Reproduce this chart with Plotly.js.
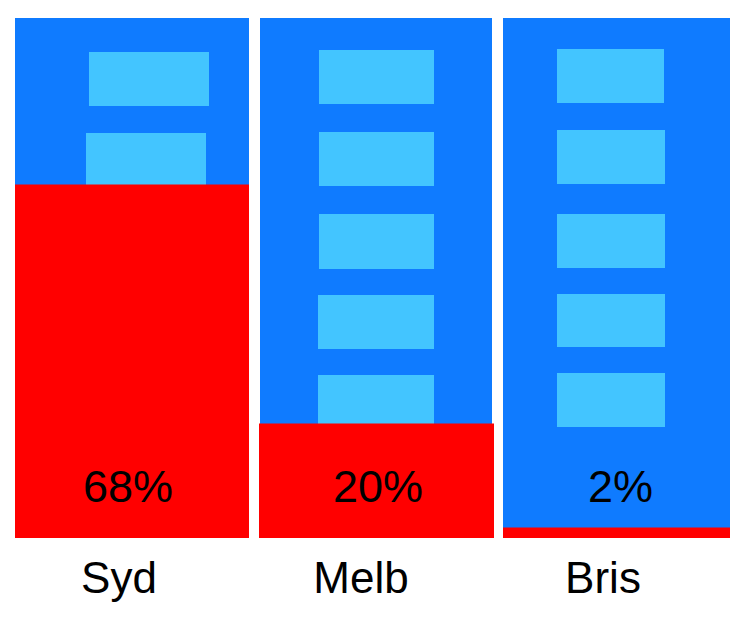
<!DOCTYPE html>
<html>
<head>
<meta charset="utf-8">
<script src="https://cdn.plot.ly/plotly-3.0.1.min.js"></script>
<style>
  html, body { margin: 0; padding: 0; background: #ffffff; }
  #chart { width: 745px; height: 620px; }
</style>
</head>
<body>
<div id="chart"></div>
<script>
// ---- data ----
const categories = ['Syd', 'Melb', 'Bris'];
const fillPct = [68, 22, 2];           // red fill height
const pctLabels = ['68%', '20%', '2%'];  // printed labels
const buildingPct = [100, 100, 100];

// ---- geometry (pixels of the 745x620 frame) ----
const PLOT_L = 11, PLOT_R = 737, PLOT_T = 18, PLOT_B = 538;
const STEP = (PLOT_R - PLOT_L) / categories.length;
const center = i => PLOT_L + STEP * (i + 0.5);
const toY = p => (PLOT_B - p) / (PLOT_B - PLOT_T) * 100;
const offs = (lefts) => lefts.map((l, i) => (l - center(i)) / STEP);
const wids = (lefts, rights) => lefts.map((l, i) => (rights[i] - l) / STEP);

const bldL = [15, 260, 503], bldR = [249, 492, 730];
const redL = [15, 259, 503], redR = [249, 494, 730];

// windows: per row, per building [left, right, top, bottom] in px
const winRows = [
  [[89, 209, 52, 106], [319, 434, 50, 104], [557, 664, 49, 103]],
  [[86, 206, 133, 186], [319, 434, 132, 186], [557, 665, 130, 184]],
  [[86, 206, 214, 268], [319, 434, 214, 269], [557, 665, 214, 268]],
  [[86, 206, 295, 349], [318, 434, 295, 349], [557, 665, 294, 347]],
  [[86, 206, 375, 428], [318, 434, 375, 429], [557, 665, 373, 427]]
];

const BLUE = '#0f7bff', WIN = '#43c5ff', RED = '#ff0000';

const traces = [];
traces.push({
  type: 'bar', x: categories, y: buildingPct,
  width: wids(bldL, bldR), offset: offs(bldL),
  marker: { color: BLUE, line: { width: 0 } },
  hoverinfo: 'skip', showlegend: false
});
winRows.forEach(row => {
  traces.push({
    type: 'bar', x: categories,
    base: row.map(w => toY(w[3])),
    y: row.map(w => toY(w[2]) - toY(w[3])),
    width: row.map(w => (w[1] - w[0]) / STEP),
    offset: row.map((w, i) => (w[0] - center(i)) / STEP),
    marker: { color: WIN, line: { width: 0 } },
    hoverinfo: 'skip', showlegend: false
  });
});
traces.push({
  type: 'bar', x: categories, y: fillPct,
  width: wids(redL, redR), offset: offs(redL),
  marker: { color: RED, line: { width: 0 } },
  hovertemplate: '%{x}: %{y}%<extra></extra>', showlegend: false
});

const pctShift = [-4, 4, 4];
const annotations = categories.map((c, i) => ({
  x: c, y: 10, xref: 'x', yref: 'y',
  text: pctLabels[i], showarrow: false,
  xanchor: 'center', yanchor: 'middle', xshift: pctShift[i],
  font: { family: 'Liberation Sans, Arial, sans-serif', size: 45, color: '#000000' }
}));

const layout = {
  width: 745, height: 620,
  margin: { l: PLOT_L, r: 745 - PLOT_R, t: PLOT_T, b: 620 - PLOT_B, pad: 0 },
  paper_bgcolor: '#ffffff', plot_bgcolor: '#ffffff',
  barmode: 'overlay',
  xaxis: {
    type: 'category', range: [-0.5, 2.5], fixedrange: true,
    showgrid: false, zeroline: false, showline: false, ticks: '',
    ticklabelshift: -13, ticklabelstandoff: 10,
    tickfont: { family: 'Liberation Sans, Arial, sans-serif', size: 44, color: '#000000' }
  },
  yaxis: { range: [0, 100], visible: false, fixedrange: true, showgrid: false, zeroline: false },
  annotations: annotations,
  showlegend: false
};

Plotly.newPlot('chart', traces, layout, { displayModeBar: false, staticPlot: true });
</script>
</body>
</html>
